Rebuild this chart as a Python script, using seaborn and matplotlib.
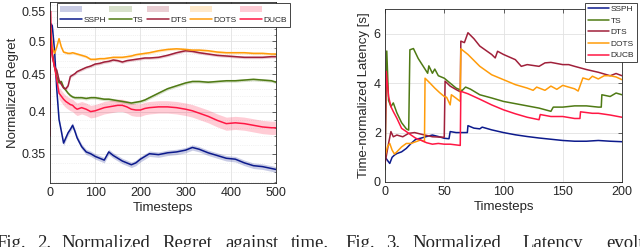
import numpy as np
import pandas as pd
import seaborn as sns
import matplotlib
matplotlib.use("Agg")
import matplotlib.pyplot as plt
from matplotlib.patches import Patch
from matplotlib.lines import Line2D
from matplotlib.ticker import FixedLocator, NullFormatter, MultipleLocator

# ---- Fig. 2: normalized regret ----
reg_t = [0, 1, 2, 5, 10, 15, 20, 25, 30, 35, 40, 45, 50, 55, 60, 70, 80, 90, 100,
         110, 120, 130, 140, 150, 160, 170, 180, 190, 200, 210, 220, 240, 260, 280,
         300, 315, 330, 350, 370, 390, 410, 430, 450, 470, 490, 500]
reg_sspH = [0.50, 0.51, 0.528, 0.525, 0.486, 0.429, 0.390, 0.376, 0.362, 0.368, 0.374,
            0.378, 0.383, 0.376, 0.368, 0.358, 0.352, 0.350, 0.347, 0.345, 0.343, 0.352,
            0.348, 0.345, 0.342, 0.340, 0.338, 0.340, 0.344, 0.347, 0.350, 0.349, 0.351,
            0.352, 0.354, 0.357, 0.355, 0.351, 0.348, 0.345, 0.344, 0.340, 0.337, 0.336,
            0.334, 0.333]
reg_ts = [0.52, 0.51, 0.50, 0.481, 0.461, 0.447, 0.438, 0.440, 0.432, 0.428, 0.424,
          0.421, 0.419, 0.418, 0.418, 0.418, 0.417, 0.418, 0.418, 0.417, 0.416, 0.416,
          0.415, 0.414, 0.413, 0.412, 0.411, 0.412, 0.413, 0.415, 0.418, 0.424, 0.430,
          0.434, 0.438, 0.440, 0.440, 0.439, 0.440, 0.441, 0.441, 0.442, 0.443, 0.442,
          0.441, 0.439]
reg_dts = [0.52, 0.51, 0.50, 0.48, 0.461, 0.456, 0.442, 0.436, 0.431, 0.430, 0.434,
           0.447, 0.449, 0.451, 0.454, 0.457, 0.460, 0.462, 0.465, 0.466, 0.468, 0.469,
           0.471, 0.470, 0.468, 0.470, 0.471, 0.472, 0.473, 0.474, 0.474, 0.475, 0.478,
           0.482, 0.485, 0.484, 0.482, 0.480, 0.478, 0.477, 0.476, 0.475, 0.475, 0.475,
           0.476, 0.476]
reg_dots = [0.53, 0.52, 0.52, 0.491, 0.481, 0.491, 0.504, 0.491, 0.483, 0.482, 0.481,
            0.481, 0.482, 0.481, 0.480, 0.478, 0.476, 0.472, 0.472, 0.473, 0.473, 0.474,
            0.475, 0.475, 0.475, 0.476, 0.477, 0.479, 0.480, 0.481, 0.482, 0.485, 0.487,
            0.488, 0.487, 0.486, 0.486, 0.485, 0.483, 0.482, 0.482, 0.482, 0.481, 0.481,
            0.480, 0.480]
reg_ducb = [0.37, 0.55, 0.512, 0.476, 0.461, 0.442, 0.424, 0.420, 0.416, 0.413, 0.411,
            0.409, 0.408, 0.405, 0.403, 0.405, 0.403, 0.400, 0.401, 0.403, 0.405, 0.406,
            0.407, 0.408, 0.408, 0.406, 0.403, 0.402, 0.402, 0.404, 0.405, 0.406, 0.406,
            0.405, 0.403, 0.401, 0.398, 0.394, 0.389, 0.385, 0.386, 0.385, 0.383, 0.381,
            0.380, 0.380]
# half width of the shaded band around each curve
reg_spread = {"SSPH": 0.003, "TS": 0.002, "DTS": 0.002, "DOTS": 0.002, "DUCB": 0.008}

# ---- Fig. 3: time-normalized latency ----
lat_ssph_t = [0, 2, 4, 6, 8, 10, 14, 18, 22, 26, 30, 35, 40, 45, 50, 54, 55, 60, 65,
              69.5, 70, 75, 80, 82, 90, 100, 110, 120, 130, 140, 150, 160, 170, 180,
              190, 200]
lat_ssph = [1.02, 0.88, 0.75, 1.0, 1.09, 1.15, 1.22, 1.36, 1.56, 1.73, 1.77, 1.84,
            1.90, 1.84, 1.77, 1.75, 2.04, 2.0, 2.0, 2.0, 2.28, 2.18, 2.15, 2.22, 2.11,
            2.0, 1.91, 1.84, 1.78, 1.73, 1.68, 1.65, 1.65, 1.68, 1.65, 1.63]

lat_ts_t = [0, 1.5, 3, 5, 7, 10, 14, 18, 20, 21, 24, 28, 32, 36, 37, 40, 42, 45, 50,
            55, 60, 65, 68, 72, 80, 90, 100, 110, 120, 130, 140, 142, 150, 160, 170,
            180, 182.5, 183, 190, 195, 200]
lat_ts = [0.5, 5.3, 3.3, 3.05, 3.2, 2.8, 2.4, 2.15, 2.1, 5.35, 5.4, 5.0, 4.7, 4.4,
          4.7, 4.4, 4.57, 4.3, 4.2, 4.0, 3.8, 3.7, 3.84, 3.76, 3.53, 3.4, 3.26, 3.17,
          3.08, 2.99, 2.86, 3.03, 3.03, 3.08, 3.08, 3.03, 3.03, 3.53, 3.46, 3.6, 3.53]

lat_dts_t = [0, 3, 5, 7, 10, 15, 20, 25, 30, 40, 50, 50.7, 55, 60, 63.5, 64, 67, 70,
             75, 80, 90, 93, 95, 100, 110, 115, 120, 130, 135, 140, 150, 155, 160, 170,
             180, 190, 195, 200]
lat_dts = [0.75, 1.56, 2.04, 1.83, 1.9, 1.83, 1.97, 2.0, 1.94, 1.83, 1.81, 4.08, 3.88,
           3.74, 3.65, 5.7, 5.64, 6.04, 5.8, 5.5, 5.16, 5.02, 5.29, 5.16, 4.95, 4.68,
           4.75, 4.68, 4.82, 4.84, 4.75, 4.75, 4.68, 4.55, 4.44, 4.3, 4.39, 4.3]

lat_dots_t = [0, 2, 4, 6, 8, 10, 14, 18, 22, 26, 30, 33.3, 33.8, 38, 42, 46, 50, 52,
              55, 56, 60, 63.5, 64, 70, 80, 90, 100, 110, 120, 125, 128, 135, 140, 145,
              150, 160, 163, 167, 172, 175, 180, 185, 190, 195, 200]
lat_dots = [1.02, 1.42, 1.56, 1.29, 1.13, 1.22, 1.42, 1.56, 1.56, 1.63, 1.70, 1.63, 4.2,
            4.0, 3.8, 3.62, 3.46, 3.43, 3.12, 3.53, 3.39, 3.26, 5.39, 5.16, 4.68, 4.34,
            4.14, 3.94, 3.8, 3.71, 3.84, 3.71, 3.88, 3.75, 3.91, 3.77, 3.68, 4.21, 4.14,
            4.28, 4.17, 4.3, 4.3, 4.25, 4.14]

lat_ducb_t = [0, 1, 3, 5, 7, 10, 14, 18, 22, 26, 30, 35, 40, 45, 50, 55, 63.5, 64, 70,
              80, 90, 100, 110, 120, 130, 131, 140, 150, 160, 164.5, 165, 175, 180, 190,
              200]
lat_ducb = [0.75, 4.48, 3.46, 3.05, 2.85, 2.58, 2.17, 2.04, 1.9, 1.77, 1.7, 1.59, 1.53,
            1.56, 1.53, 1.53, 1.48, 3.67, 3.57, 3.35, 3.12, 2.92, 2.76, 2.62, 2.52, 2.73,
            2.65, 2.65, 2.57, 2.57, 2.84, 2.78, 2.78, 2.71, 2.62]

names = ["SSPH", "TS", "DTS", "DOTS", "DUCB"]
colors = {"SSPH": "#0c1a8c", "TS": "#4f7a14", "DTS": "#a0203a",
          "DOTS": "#ff9c0a", "DUCB": "#ff1744"}

sns.set_style("white")
plt.rcParams["font.family"] = ["Liberation Sans", "DejaVu Sans"]
plt.rcParams["axes.edgecolor"] = "#262626"
plt.rcParams["axes.linewidth"] = 0.6

fig = plt.figure(figsize=(6.4, 2.47), dpi=100)
ax1 = fig.add_axes([50 / 640, 1 - 183 / 247, 226 / 640, 181 / 247])
ax2 = fig.add_axes([385 / 640, 1 - 182 / 247, 237 / 640, 173 / 247])

# regret plot
reg_series = {"SSPH": reg_sspH, "TS": reg_ts, "DTS": reg_dts,
              "DOTS": reg_dots, "DUCB": reg_ducb}
for name in names:
    v = np.array(reg_series[name])
    s = reg_spread[name]
    ax1.fill_between(reg_t, v - s, v + s, color=colors[name], alpha=0.22, lw=0)
for name in names:
    df = pd.DataFrame({"t": reg_t, "v": reg_series[name]})
    sns.lineplot(data=df, x="t", y="v", ax=ax1, color=colors[name], lw=1.1,
                 sort=False, estimator=None, legend=False)

ax1.set_yscale("log")
ax1.set_xlim(0, 500)
ax1.set_ylim(0.319, 0.566)
ax1.yaxis.set_major_locator(FixedLocator([0.35, 0.4, 0.45, 0.5, 0.55]))
ax1.set_yticklabels(["0.35", "0.4", "0.45", "0.5", "0.55"])
ax1.yaxis.set_minor_locator(FixedLocator(np.arange(0.32, 0.57, 0.01)))
ax1.yaxis.set_minor_formatter(NullFormatter())
ax1.xaxis.set_major_locator(MultipleLocator(100))
ax1.grid(True, which="major", color="#e2e2e2", lw=0.6)
ax1.grid(True, which="minor", axis="y", color="#e6e6e6", lw=0.5, ls=":")
ax1.set_xlabel("Timesteps", fontsize=9.5, labelpad=2)
ax1.set_ylabel("Normalized Regret", fontsize=9.5, labelpad=2)

# latency plot
lat_series = {"SSPH": (lat_ssph_t, lat_ssph), "TS": (lat_ts_t, lat_ts),
              "DTS": (lat_dts_t, lat_dts), "DOTS": (lat_dots_t, lat_dots),
              "DUCB": (lat_ducb_t, lat_ducb)}
for name in names:
    t, v = lat_series[name]
    df = pd.DataFrame({"t": t, "v": v})
    sns.lineplot(data=df, x="t", y="v", ax=ax2, color=colors[name], lw=1.1,
                 sort=False, estimator=None, legend=False)
ax2.set_xlim(0, 200)
ax2.set_ylim(0, 7)
ax2.xaxis.set_major_locator(MultipleLocator(50))
ax2.yaxis.set_major_locator(FixedLocator([0, 2, 4, 6]))
ax2.grid(True, color="#e2e2e2", lw=0.6)
ax2.set_xlabel("Timesteps", fontsize=9.5, labelpad=2)
ax2.set_ylabel("Time-normalized Latency [s]", fontsize=9.5, labelpad=3)

for ax in (ax1, ax2):
    ax.set_axisbelow(True)
    ax.tick_params(which="both", direction="in", top=True, right=True,
                   labelsize=9, pad=3, color="#262626")
    ax.tick_params(which="major", length=3, width=0.5)
    ax.tick_params(which="minor", length=1.5, width=0.4)

# legends
handles, labels = [], []
for name in names:
    handles.append(Patch(facecolor=colors[name], alpha=0.22, edgecolor="none"))
    labels.append("")
    handles.append(Line2D([], [], color=colors[name], lw=1.1))
    labels.append(name)
fig.legend(handles, labels, ncol=5, loc="lower left",
           bbox_to_anchor=(57 / 640, 1 - 27 / 247), fontsize=6, frameon=True,
           fancybox=False, edgecolor="#262626", framealpha=1,
           handlelength=2.7, handletextpad=0.15, columnspacing=0.35,
           labelspacing=0.3, borderpad=0.35, borderaxespad=0).get_frame().set_linewidth(0.6)

line_handles = [Line2D([], [], color=colors[n], lw=1.1) for n in names]
fig.legend(line_handles, names, loc="lower left",
           bbox_to_anchor=(585 / 640, 1 - 62 / 247), fontsize=6, frameon=True,
           fancybox=False, edgecolor="#262626", framealpha=1,
           handlelength=2.6, handletextpad=0.15, labelspacing=0.45,
           borderpad=0.3, borderaxespad=0).get_frame().set_linewidth(0.6)

# captions (justified words, cut by the bottom edge as in the source)
cap_left = [("Fig.", -4), ("2.", 37), ("Normalized", 61), ("Regret", 162),
            ("against", 225), ("time.", 291)]
cap_right = [("Fig.", 345), ("3.", 386), ("Normalized", 412), ("Latency", 522),
             ("evolution", 606)]
for word, x in cap_left + cap_right:
    fig.text(x / 640, -0.5 / 247, word, fontsize=13.5, va="baseline", ha="left",
             family=["Liberation Serif", "DejaVu Serif"])

fig.savefig("out.png", dpi=100)
